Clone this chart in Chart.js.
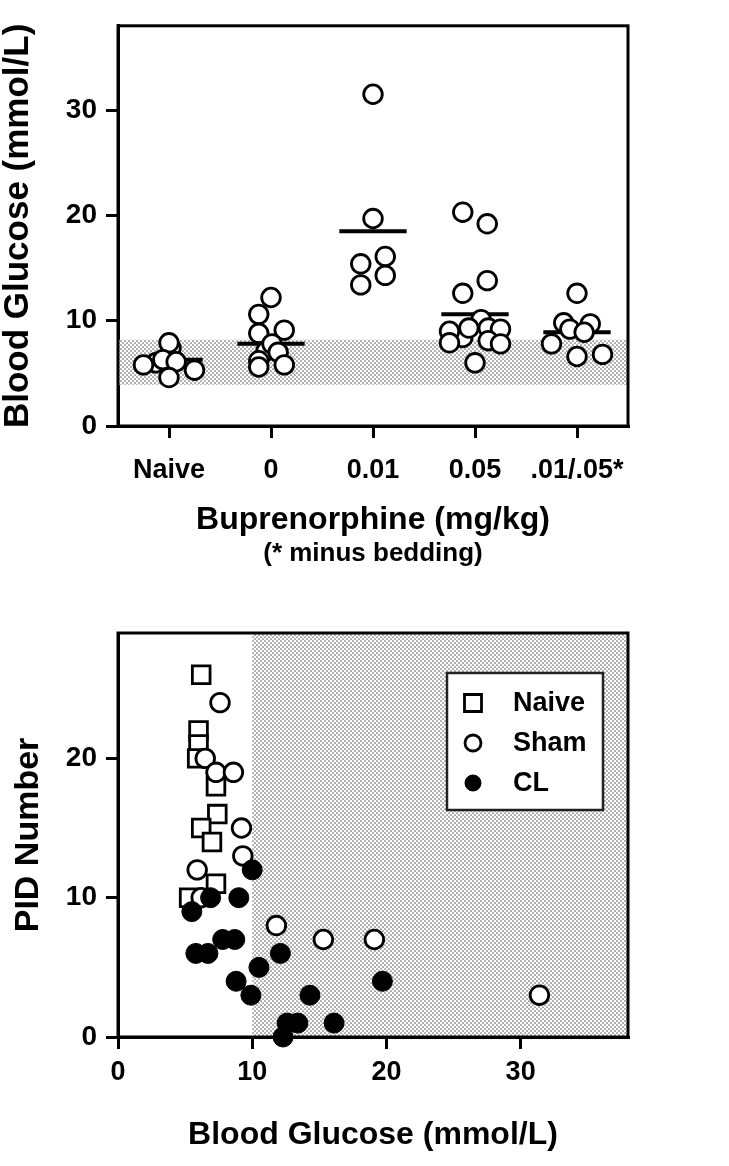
<!DOCTYPE html>
<html>
<head>
<meta charset="utf-8">
<script src="https://cdn.jsdelivr.net/npm/chart.js@4.4.0/dist/chart.umd.min.js"></script>
<style>
  html, body { margin: 0; padding: 0; background: #fff; }
  canvas { display: block; }
</style>
</head>
<body>
<canvas id="doseChart" width="729" height="600"></canvas>
<canvas id="pidChart" width="729" height="566"></canvas>
<script>
// ---- top panel: blood glucose per buprenorphine dose ----
const doseGroups = ['Naive', '0', '0.01', '0.05', '.01/.05*'];
const glucoseNaive = [6.0, 7.4, 7.9, 5.8, 6.3, 6.1, 4.6, 5.3];
const glucoseDose0 = [7.1, 12.2, 10.6, 8.8, 9.1, 7.8, 7.0, 6.2, 5.6, 5.8];
const glucoseDose001 = [31.5, 19.7, 15.4, 16.1, 13.4, 14.3];
const glucoseDose005 = [8.4, 20.3, 19.2, 13.8, 12.6, 10.1, 9.3, 9.0, 9.3, 9.2, 7.9, 8.1, 7.8, 6.0];
const glucoseNoBedding = [12.6, 9.8, 9.7, 9.2, 8.9, 7.8, 6.6, 6.8];
// sideways spread of the points inside each group (category units)
const jitterNaive = [-0.13, 0.02, 0, -0.25, -0.06, 0.07, 0, 0.25];
const jitterDose0 = [-0.05, 0, -0.12, -0.12, 0.13, 0.01, 0.07, -0.12, -0.12, 0.13];
const jitterDose001 = [0, 0, -0.12, 0.12, -0.12, 0.12];
const jitterDose005 = [-0.12, -0.12, 0.12, 0.12, -0.12, 0.06, -0.06, -0.25, 0.13, 0.25, -0.25, 0.13, 0.25, 0];
const jitterNoBedding = [0, -0.13, 0.13, -0.07, 0.07, -0.25, 0, 0.25];
const groupMeans = [6.3, 7.8, 18.5, 10.6, 8.9];
const normalRange = [3.9, 8.2];
const glucoseTicks = [0, 10, 20, 30];

// ---- bottom panel: PID number vs blood glucose ----
const naiveGlucose = [6.2, 6.0, 6.0, 5.9, 7.3, 7.4, 6.2, 7.0, 7.3, 5.3];
const naivePid = [26, 22, 21, 20, 18, 16, 15, 14, 11, 10];
const shamGlucose = [7.6, 6.5, 7.3, 8.6, 9.2, 9.3, 5.9, 6.2, 11.8, 15.3, 19.1, 31.4];
const shamPid = [24, 20, 19, 19, 15, 13, 12, 10, 8, 7, 7, 3];
const clGlucose = [10.0, 9.0, 6.9, 5.5, 7.8, 8.7, 5.8, 6.7, 12.1, 10.5, 8.8, 9.9, 14.3, 19.7, 12.3, 12.6, 13.4, 16.1];
const clPid = [12, 10, 10, 9, 7, 7, 6, 6, 6, 5, 4, 3, 3, 4, 0, 1, 1, 1];
const hyperThreshold = 10;
const pidTicks = [0, 10, 20];
const bgTicks = [0, 10, 20, 30];

Chart.defaults.font.family = "'Liberation Sans', Arial, sans-serif";
Chart.defaults.font.weight = 'bold';
Chart.defaults.color = '#000';

const FONT = "'Liberation Sans', Arial, sans-serif";
const MEAN_HALF = 0.33;

// dotted fill used for the shaded ranges
function makeDots() {
    const c = document.createElement('canvas');
    c.width = 4; c.height = 4;
    const p = c.getContext('2d');
    p.fillStyle = '#fff';
    p.fillRect(0, 0, 4, 4);
    p.fillStyle = '#6a6a6a';
    p.beginPath(); p.arc(1, 1, 0.85, 0, Math.PI * 2); p.fill();
    p.beginPath(); p.arc(3, 3, 0.85, 0, Math.PI * 2); p.fill();
    return c;
}
const dots = makeDots();

function zip(xs, ys) {
    return xs.map((x, i) => ({ x: x, y: ys[i] }));
}

// band + box around the plot, drawn under the points
function shadePlugin(getRect) {
    return {
        id: 'shade',
        beforeDatasetsDraw(chart) {
            const { ctx, chartArea: a } = chart;
            const r = getRect(chart);
            ctx.save();
            ctx.fillStyle = ctx.createPattern(dots, 'repeat');
            ctx.fillRect(r.left, r.top, r.right - r.left, r.bottom - r.top);
            ctx.lineWidth = 3;
            ctx.strokeStyle = '#000';
            ctx.strokeRect(a.left, a.top, a.right - a.left, a.bottom - a.top);
            ctx.restore();
        }
    };
}

function axisGrid() {
    return { drawOnChartArea: false, drawTicks: true, tickLength: 12, lineWidth: 3, color: '#000' };
}

// ---------- top chart ----------
const doseValues = [glucoseNaive, glucoseDose0, glucoseDose001, glucoseDose005, glucoseNoBedding];
const doseJitter = [jitterNaive, jitterDose0, jitterDose001, jitterDose005, jitterNoBedding];
const dosePoints = [];
doseValues.forEach((vals, g) => {
    vals.forEach((v, i) => dosePoints.push({ x: g + doseJitter[g][i], y: v }));
});
const meanPoints = [];
groupMeans.forEach((m, g) => {
    meanPoints.push({ x: g - MEAN_HALF, y: m }, { x: g + MEAN_HALF, y: m }, { x: g + 0.5, y: null });
});

const ctx1 = document.getElementById('doseChart').getContext('2d');
const doseChart = new Chart(ctx1, {
    type: 'scatter',
    data: {
        datasets: [{
            label: 'Blood glucose',
            data: dosePoints,
            pointRadius: 9.3,
            pointBorderWidth: 2.8,
            pointBackgroundColor: '#fff',
            pointBorderColor: '#000',
            clip: false,
            order: 0
        }, {
            label: 'Mean',
            data: meanPoints,
            showLine: true,
            spanGaps: false,
            borderColor: '#000',
            borderWidth: 4,
            pointRadius: 0,
            order: 1
        }]
    },
    options: {
        responsive: false,
        animation: false,
        devicePixelRatio: 1,
        layout: { padding: { left: 0, top: 22, right: 101, bottom: 0 } },
        plugins: { legend: { display: false }, tooltip: { enabled: false } },
        scales: {
            x: {
                type: 'linear',
                min: -0.5,
                max: 4.5,
                afterBuildTicks: s => { s.ticks = doseGroups.map((g, i) => ({ value: i })); },
                afterFit: s => { s.height = 174; },
                ticks: {
                    callback: (v, i) => doseGroups[i],
                    font: { size: 27, weight: 'bold' },
                    padding: 16,
                    maxRotation: 0,
                    autoSkip: false
                },
                grid: axisGrid(),
                border: { display: true, width: 3, color: '#000' },
                title: {
                    display: true,
                    text: 'Buprenorphine (mg/kg)',
                    font: { size: 32, weight: 'bold', lineHeight: 1 },
                    padding: { top: 0, bottom: 64 }
                }
            },
            y: {
                min: 0,
                max: 38,
                afterBuildTicks: s => { s.ticks = glucoseTicks.map(v => ({ value: v })); },
                afterFit: s => { s.width = 118; },
                ticks: { font: { size: 28, weight: 'bold' }, padding: 9 },
                grid: axisGrid(),
                border: { display: true, width: 3, color: '#000' },
                title: {
                    display: true,
                    text: 'Blood Glucose (mmol/L)',
                    font: { size: 35, weight: 'bold', lineHeight: 1 },
                    padding: { top: 1, bottom: 0 }
                }
            }
        }
    },
    plugins: [
        shadePlugin(chart => ({
            left: chart.chartArea.left,
            right: chart.chartArea.right,
            top: chart.scales.y.getPixelForValue(normalRange[1]),
            bottom: chart.scales.y.getPixelForValue(normalRange[0])
        })),
        {
            id: 'subNote',
            afterDraw(chart) {
                const { ctx, chartArea: a } = chart;
                ctx.save();
                ctx.font = 'bold 26px ' + FONT;
                ctx.fillStyle = '#000';
                ctx.textAlign = 'center';
                ctx.textBaseline = 'middle';
                ctx.fillText('(* minus bedding)', (a.left + a.right) / 2, 554);
                ctx.restore();
            }
        }
    ]
});

// ---------- bottom chart ----------
const ctx2 = document.getElementById('pidChart').getContext('2d');
const pidChart = new Chart(ctx2, {
    type: 'scatter',
    data: {
        datasets: [{
            label: 'Naive',
            data: zip(naiveGlucose, naivePid),
            pointStyle: 'rect',
            pointRadius: 12.5,
            pointBorderWidth: 2.8,
            pointBackgroundColor: '#fff',
            pointBorderColor: '#000',
            clip: false,
            order: 2
        }, {
            label: 'Sham',
            data: zip(shamGlucose, shamPid),
            pointStyle: 'circle',
            pointRadius: 9.3,
            pointBorderWidth: 2.8,
            pointBackgroundColor: '#fff',
            pointBorderColor: '#000',
            clip: false,
            order: 1
        }, {
            label: 'CL',
            data: zip(clGlucose, clPid),
            pointStyle: 'circle',
            pointRadius: 10,
            pointBorderWidth: 1,
            pointBackgroundColor: '#000',
            pointBorderColor: '#000',
            clip: false,
            order: 0
        }]
    },
    options: {
        responsive: false,
        animation: false,
        devicePixelRatio: 1,
        layout: { padding: { left: 0, top: 33, right: 101, bottom: 0 } },
        plugins: { legend: { display: false }, tooltip: { enabled: false } },
        scales: {
            x: {
                min: 0,
                max: 38,
                afterBuildTicks: s => { s.ticks = bgTicks.map(v => ({ value: v })); },
                afterFit: s => { s.height = 129; },
                ticks: { font: { size: 27, weight: 'bold' }, padding: 7, maxRotation: 0 },
                grid: axisGrid(),
                border: { display: true, width: 3, color: '#000' },
                title: {
                    display: true,
                    text: 'Blood Glucose (mmol/L)',
                    font: { size: 32, weight: 'bold', lineHeight: 1 },
                    padding: { top: 0, bottom: 15 }
                }
            },
            y: {
                min: 0,
                max: 29,
                afterBuildTicks: s => { s.ticks = pidTicks.map(v => ({ value: v })); },
                afterFit: s => { s.width = 118; },
                ticks: { font: { size: 28, weight: 'bold' }, padding: 9 },
                grid: axisGrid(),
                border: { display: true, width: 3, color: '#000' },
                title: {
                    display: true,
                    text: 'PID Number',
                    font: { size: 34, weight: 'bold', lineHeight: 1 },
                    padding: { top: 12, bottom: 0 }
                }
            }
        }
    },
    plugins: [
        shadePlugin(chart => ({
            left: chart.scales.x.getPixelForValue(hyperThreshold),
            right: chart.chartArea.right,
            top: chart.chartArea.top,
            bottom: chart.chartArea.bottom
        })),
        {
            // boxed legend in the upper right corner of the plot
            id: 'boxLegend',
            afterDraw(chart) {
                const { ctx, chartArea: a } = chart;
                const left = a.right - 181, top = a.top + 40, w = 156, h = 137;
                ctx.save();
                ctx.fillStyle = '#fff';
                ctx.fillRect(left, top, w, h);
                ctx.lineWidth = 2.5;
                ctx.strokeStyle = '#222';
                ctx.strokeRect(left, top, w, h);
                chart.data.datasets.forEach((ds, i) => {
                    const cx = left + 26, cy = top + 30 + i * 40;
                    ctx.fillStyle = ds.pointBackgroundColor;
                    ctx.strokeStyle = ds.pointBorderColor;
                    ctx.lineWidth = ds.pointBorderWidth;
                    ctx.beginPath();
                    if (ds.pointStyle === 'rect') {
                        const s = 8.5;
                        ctx.rect(cx - s, cy - s, 2 * s, 2 * s);
                    } else {
                        ctx.arc(cx, cy, 8, 0, Math.PI * 2);
                    }
                    ctx.fill();
                    ctx.stroke();
                    ctx.fillStyle = '#000';
                    ctx.font = 'bold 27px ' + FONT;
                    ctx.textAlign = 'left';
                    ctx.textBaseline = 'middle';
                    ctx.fillText(ds.label, left + 66, cy + 1);
                });
                ctx.restore();
            }
        }
    ]
});
</script>
</body>
</html>
